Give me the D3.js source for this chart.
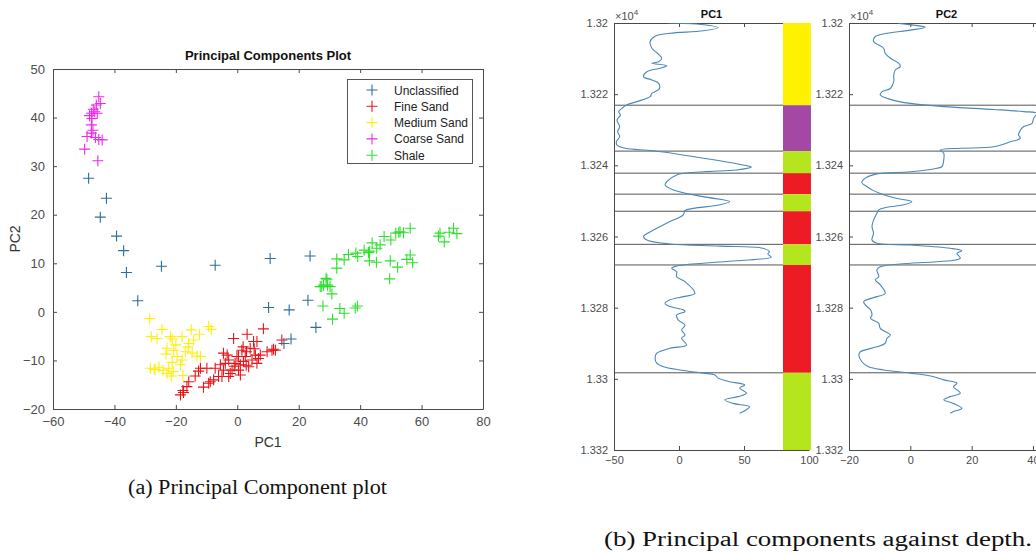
<!DOCTYPE html>
<html><head><meta charset="utf-8">
<script src="https://cdn.jsdelivr.net/npm/d3@7/dist/d3.min.js"></script>
<style>
body{margin:0;background:#fff}
svg{display:block}
</style>
</head><body>
<svg id="c" width="1036" height="554" font-family='"Liberation Sans",Arial,sans-serif'></svg>
<script>
// ---------------- DATA ----------------
const classNames = ["Unclassified","Fine Sand","Medium Sand","Coarse Sand","Shale"];
const unclassified = [[-48.4,27.5],[-42.6,23.4],[-44.6,19.5],[-39.3,15.6],[-37,12.6],[-36.1,8.1],[-24.7,9.4],[-7.2,9.6],[-32.4,2.3],[10.7,11],[23.7,11.5],[10.2,0.9],[16.9,0.4],[23,2.4],[25.6,-3.2],[15.2,-6.5],[17.5,-5.6]];
const fineSand = [[-18.5,-17.1],[-17.7,-16.2],[-17.5,-16.6],[-16.4,-15.4],[-15.8,-14.4],[-13.7,-13.2],[-12.6,-12.2],[-12,-11.6],[-11,-15.5],[-9.9,-11.6],[-9.3,-14.7],[-8.8,-14.4],[-7.7,-14],[-7.2,-11.6],[-6.1,-13.3],[-5.5,-10.9],[-5,-13.3],[-4.5,-8.5],[-4.5,-12],[-3.9,-10.6],[-3.3,-8.9],[-2.8,-9.9],[-2.8,-13.3],[-2.3,-12.7],[-1.7,-12],[-1.2,-5.5],[-0.7,-10.6],[-0.1,-9.2],[0.4,-12],[1,-10.9],[1,-13],[1.5,-7.9],[2,-10.2],[1.9,-7.2],[2.6,-9.2],[3.2,-4.6],[3.7,-11.3],[4.2,-7.5],[4.8,-9.9],[5.3,-6.1],[5.9,-8.9],[6.4,-6.1],[6.4,-10.6],[6.9,-9.6],[7.5,-8.9],[8.5,-3.5],[9.7,-8.2],[11.3,-7.9],[11.8,-7.7],[12.4,-7.9],[14.5,-5.8],[0.4,-9.2],[2.9,-11],[-1,-11.2],[5.5,-7.6],[3,-8.2]];
const mediumSand = [[-28.5,-1.4],[-24.5,-3.6],[-28,-5.1],[-26.1,-5.5],[-21.8,-5.1],[-21.2,-5.6],[-18,-5.1],[-15,-3.7],[-12.3,-4.6],[-9.3,-3],[-8.5,-3.6],[-14.2,-5.8],[-15.8,-6.5],[-22.9,-7.5],[-20.7,-7.9],[-23.2,-8.7],[-19.6,-9.2],[-16.9,-8.2],[-14.7,-8.5],[-13.1,-9.1],[-18,-9.9],[-21.2,-10.4],[-18.5,-10.9],[-28.3,-11.6],[-27,-11.8],[-25.5,-11.4],[-24.2,-12],[-22.3,-11.6],[-20.9,-12.3],[-21.5,-13.2],[-17.7,-13.1],[-22.9,-12.7],[-12,-9.2],[-16,-7.2],[-20,-6.8],[-26.8,-11.9]];
const coarseSand = [[-45.1,44.3],[-44.6,42.9],[-45.9,42.6],[-46.9,41.7],[-45.6,40.9],[-48.1,40.4],[-47.5,40.9],[-46.4,41.2],[-47.3,39.8],[-47.5,38.5],[-47,37.4],[-47.5,36.8],[-48.9,36.1],[-46.2,35.9],[-45.1,35.5],[-44,35.4],[-49.7,33.5],[-45.4,31.1]];
const shale = [[27,5.2],[27.5,5.2],[28.1,5.5],[28.9,6.9],[29.2,6.6],[29.4,5.5],[30.2,5.2],[30.8,3.7],[27.9,1.2],[33.4,0.7],[34.8,-0.3],[31,-1.5],[38.4,0.8],[39.1,1.2],[32.4,9],[32.4,10.9],[34.8,10.7],[36.2,11.8],[38.6,12.1],[39.2,11.4],[41.3,12.7],[42.7,12.2],[43.1,12.5],[43,10.5],[45.3,10.2],[43.9,14.2],[45.4,13.1],[46.5,13.8],[47.8,15.5],[50,14.8],[49.8,10.5],[52.2,9.2],[49.6,6.8],[51.6,16.2],[52.6,16.4],[53,16.5],[54.1,16.3],[56.3,17.2],[55.2,10.8],[56.3,11.7],[57.1,10.1],[65.5,15.6],[66,16.2],[67.4,14.4],[69,16.4],[70.4,17.2],[71.5,16.1]];
const scatterXTicks = [-60,-40,-20,0,20,40,60,80];
const scatterYTicks = [-20,-10,0,10,20,30,40,50];

const pc1Depth = [13200,13200.3,13201.3,13202.2,13202.9,13203.7,13205.2,13207.1,13208.5,13209.9,13210.9,13211.3,13212,13212.7,13213.7,13215.1,13216,13216.9,13218.4,13219.8,13220.7,13222.1,13223,13224,13224.9,13225.9,13227.3,13229.1,13230.5,13231.9,13233.4,13234.3,13235.2,13235.9,13238,13239.9,13240.5,13241.3,13241.8,13242.7,13244.6,13245.5,13246.9,13248.8,13250.2,13251.1,13252.1,13252.7,13253.9,13255.8,13258.2,13260,13261,13262.1,13262.7,13263.3,13264.3,13264.9,13265.8,13266.8,13267.5,13268.3,13268.9,13269.9,13271.3,13272.7,13276,13276.9,13277.8,13278.8,13279.7,13280.6,13281.1,13282.1,13283.5,13284.9,13286.3,13287.7,13288.6,13290.5,13291.4,13292.8,13294.2,13295.6,13296.6,13297.5,13298.4,13298.9,13299.8,13300.8,13301.7,13302.6,13304,13305,13305.9,13306.9,13307.8,13308.7,13309.7];
const pc1Value = [-8.2,13.5,30.1,18.6,-6.9,-18.4,-22.2,-20.9,-16.6,-13.3,-15.8,-20.9,-9.4,-14.5,-24.7,-27.3,-20.9,-15.8,-15,-20.9,-22.2,-32.4,-40,-43.9,-46.4,-45.1,-47.7,-45.6,-47.2,-45.6,-48.2,-47.7,-41.3,-19.6,18.6,49.2,55.6,44.1,18.6,-1.8,-9.4,-10.7,-4.3,18.6,39,31.4,11,4.6,3.3,-6.9,-19.6,-27.3,-24.7,-6.9,31.4,64.5,69.6,68.3,70.9,44.1,18.6,-1.8,-5.6,-1.8,-1.8,4.6,12.2,3.3,-6.9,-10.7,-6.9,3.3,4.6,-1.8,-0.5,4.6,2,4.6,2,5.9,-6.9,-17.1,-18.4,-17.1,-12,0.8,18.6,27.5,30.1,39,50.5,46.7,51.8,45.4,35.2,41.5,54.3,51.8,46.7];
const pc2Depth = [13200.1,13200.6,13201.2,13202,13202.9,13203.8,13205.2,13206.2,13207.1,13208.5,13209.9,13211.3,13212.3,13213.2,13214.6,13216.5,13218.4,13219.3,13220.2,13221.6,13222.6,13223.5,13224.3,13224.9,13225.4,13226.8,13228.2,13229.1,13230.1,13231.5,13232.4,13233.4,13234.8,13235.2,13235.7,13236.6,13238.5,13240.4,13240.8,13241.8,13242.4,13243.6,13244.9,13246,13246.9,13247.9,13249.3,13250.2,13251.1,13251.8,13252.5,13253.5,13255.4,13257.2,13259.1,13261,13261.9,13262.4,13263.3,13264,13264.7,13266.1,13267.1,13267.5,13268.5,13269.4,13271.3,13272.2,13273.6,13276,13276.9,13278.3,13279.2,13280.6,13282.1,13283,13284.4,13285.8,13287.7,13288.6,13290,13291,13292.4,13293.3,13295.2,13296.6,13297.5,13298.4,13299.4,13300.3,13301.2,13302.2,13304,13305,13305.9,13306.9,13308.3,13309.2,13309.7];
const pc2Value = [-3.8,1.1,4.9,0,-7.6,-11.4,-12,-10.3,-8.7,-8.2,-6.5,-3.8,-3.3,-4.9,-5.4,-5.4,-6.5,-9.2,-9.8,-6,0,10.9,27.2,37,41.3,40.2,39.7,37,35.9,35.3,35.9,32.6,27.2,16.3,9.8,10.9,10.9,10.3,8.7,0,-10.9,-14.7,-15.8,-14.1,-12.5,-9.8,-4.3,0.5,-2.2,-7.6,-10.3,-10.9,-12,-12.5,-12,-12.5,-10.9,0,13,16.8,15.2,16.3,8.7,0,-9.8,-10.9,-10.3,-11.4,-9.8,-8.2,-10.9,-15.2,-14.7,-13,-12.5,-13,-10.3,-9.8,-6.5,-7.6,-8.2,-10.9,-16.3,-16.8,-15.8,-13.6,-8.7,0,7.6,10.9,15.2,14.1,16.3,13,10.9,14.1,16.8,14.1,13];

const zoneBounds = [13200,13223.1,13236,13242.2,13248.1,13252.9,13262.2,13268,13298.3,13320];
const zoneClass = ["Medium Sand","Coarse Sand","Shale","Fine Sand","Shale","Fine Sand","Shale","Fine Sand","Shale"];
const zoneBarX = [80,101.5];
const depthTicks = [13200,13220,13240,13260,13280,13300,13320];
const pc1Ticks = [-50,0,50,100];
const pc2Ticks = [-20,0,20,40];

// ---------------- DRAW ----------------
const svg = d3.select("#c");
const AX = "#4a4a4a", TXT = "#4d4d4d";
const SANS = '"Liberation Sans",Arial,sans-serif';
const SERIF = '"Liberation Serif","DejaVu Serif",serif';
const scatterColor = d3.scaleOrdinal().domain(classNames)
  .range(["#2b6d9c","#e8141c","#ffee10","#ee28ee","#2ee02e"]);
const zoneColor = d3.scaleOrdinal().domain(["Medium Sand","Coarse Sand","Shale","Fine Sand"])
  .range(["#fff200","#a349a4","#b5e61d","#ed1c24"]);

function styleAxis(g, fs){
  g.attr("font-family", SANS);
  g.selectAll(".domain").attr("stroke", AX);
  g.selectAll(".tick line").attr("stroke", AX);
  g.selectAll(".tick text").attr("fill", TXT).attr("font-size", fs);
}

// ---- Scatter plot ----
const sx = d3.scaleLinear().domain([-60,80]).range([53,483]);
const sy = d3.scaleLinear().domain([-20,50]).range([409,69]);
const sp = svg.append("g");
sp.append("g").attr("transform","translate(0,409)")
  .call(d3.axisBottom(sx).tickValues(scatterXTicks).tickSizeInner(-4).tickSizeOuter(0).tickPadding(8))
  .call(g=>styleAxis(g,13));
sp.append("g").attr("transform","translate(0,69)")
  .call(d3.axisTop(sx).tickValues(scatterXTicks).tickSizeInner(-4).tickSizeOuter(0).tickFormat(""))
  .call(g=>styleAxis(g,13));
sp.append("g").attr("transform","translate(53,0)")
  .call(d3.axisLeft(sy).tickValues(scatterYTicks).tickSizeInner(-4).tickSizeOuter(0).tickPadding(8))
  .call(g=>styleAxis(g,13));
sp.append("g").attr("transform","translate(483,0)")
  .call(d3.axisRight(sy).tickValues(scatterYTicks).tickSizeInner(-4).tickSizeOuter(0).tickFormat(""))
  .call(g=>styleAxis(g,13));

const plus = "M-5.5,0H5.5M0,-5.5V5.5";
const groups = [unclassified, fineSand, mediumSand, coarseSand, shale];
groups.forEach((pts,i)=>{
  sp.append("g").selectAll("path").data(pts).join("path")
    .attr("d", plus)
    .attr("transform", d=>`translate(${sx(d[0])},${sy(d[1])})`)
    .attr("stroke", scatterColor(classNames[i])).attr("stroke-width",1.1).attr("fill","none");
});

sp.append("text").attr("x",268).attr("y",60).attr("text-anchor","middle")
  .attr("font-size",13).attr("font-weight","bold").attr("fill","#111").text("Principal Components Plot");
sp.append("text").attr("x",268).attr("y",447).attr("text-anchor","middle")
  .attr("font-size",14).attr("fill","#333").text("PC1");
sp.append("text").attr("transform","translate(20,239) rotate(-90)").attr("text-anchor","middle")
  .attr("font-size",14).attr("fill","#333").text("PC2");

// legend
const lg = sp.append("g");
lg.append("rect").attr("x",347.5).attr("y",79.5).attr("width",125).attr("height",84)
  .attr("fill","#fff").attr("stroke","#555").attr("stroke-width",1);
classNames.forEach((c,i)=>{
  const y = 90 + i*16.3;
  lg.append("path").attr("d",plus).attr("transform",`translate(372,${y})`)
    .attr("stroke",scatterColor(c)).attr("stroke-width",1.1);
  lg.append("text").attr("x",394).attr("y",y+4.5).attr("font-size",12).attr("fill","#222").text(c);
});

// ---- Depth panels ----
const dy = d3.scaleLinear().domain([13200,13320]).range([23,450]);
const fmtDepth = d => String(+(d/1e4).toFixed(4));
const lineCol = "#4a88bb";

function depthPanel(x0, x1, domain, ticks, depth, vals, title, showBar){
  const xs = d3.scaleLinear().domain(domain).range([x0,x1]);
  const g = svg.append("g");
  const clipId = "clip"+title;
  svg.append("clipPath").attr("id",clipId).append("rect")
    .attr("x",x0).attr("y",23).attr("width",x1-x0).attr("height",427);
  const lineEnd = showBar ? xs(zoneBarX[0]) : x1;
  g.selectAll("line.zb").data(zoneBounds.slice(1,-1)).join("line")
    .attr("x1",x0).attr("x2",lineEnd).attr("y1",d=>dy(d)).attr("y2",d=>dy(d))
    .attr("stroke","#555").attr("stroke-width",1);
  g.append("g").attr("transform","translate(0,450)")
    .call(d3.axisBottom(xs).tickValues(ticks).tickSizeInner(-4).tickSizeOuter(0).tickPadding(6))
    .call(a=>styleAxis(a,11));
  g.append("g").attr("transform","translate(0,23)")
    .call(d3.axisTop(xs).tickValues(ticks).tickSizeInner(-4).tickSizeOuter(0).tickFormat(""))
    .call(a=>styleAxis(a,11));
  g.append("g").attr("transform",`translate(${x0},0)`)
    .call(d3.axisLeft(dy).tickValues(depthTicks).tickFormat(fmtDepth).tickSizeInner(-4).tickSizeOuter(0).tickPadding(6))
    .call(a=>styleAxis(a,11));
  const pts = depth.map((d,i)=>[vals[i], d]);
  g.append("path").datum(pts)
    .attr("clip-path",`url(#${clipId})`)
    .attr("d", d3.line().x(d=>xs(d[0])).y(d=>dy(d[1])).curve(d3.curveCatmullRom.alpha(0.5)))
    .attr("fill","none").attr("stroke",lineCol).attr("stroke-width",1.1);
  if(showBar){
    const segs = zoneClass.map((c,i)=>({c, a:zoneBounds[i], b:zoneBounds[i+1]}));
    g.selectAll("rect.zone").data(segs).join("rect")
      .attr("x", xs(zoneBarX[0])).attr("width", xs(zoneBarX[1])-xs(zoneBarX[0]))
      .attr("y", d=>dy(d.a)).attr("height", d=>dy(d.b)-dy(d.a))
      .attr("fill", d=>zoneColor(d.c));
  }
  g.append("text").attr("x",(x0+x1)/2).attr("y",18).attr("text-anchor","middle")
    .attr("font-size",11).attr("font-weight","bold").attr("fill","#111").text(title);
  const ex = g.append("text").attr("x",x0+1).attr("y",20).attr("font-size",11).attr("fill",TXT);
  ex.append("tspan").text("×10");
  ex.append("tspan").attr("font-size",8).attr("dy",-5).text("4");
  return xs;
}
depthPanel(614, 809, [-50,100], pc1Ticks, pc1Depth, pc1Value, "PC1", true);
depthPanel(849, 1044, [-20,43.6], pc2Ticks, pc2Depth, pc2Value, "PC2", false);

// captions
svg.append("text").attr("x",128).attr("y",494)
  .attr("font-family",SERIF).attr("font-size",20).attr("fill","#111")
  .attr("textLength",259).attr("lengthAdjust","spacingAndGlyphs")
  .text("(a) Principal Component plot");
svg.append("text").attr("x",604).attr("y",546)
  .attr("font-family",SERIF).attr("font-size",20).attr("fill","#111")
  .attr("textLength",428).attr("lengthAdjust","spacingAndGlyphs")
  .text("(b) Principal components against depth.");
</script>
</body></html>
